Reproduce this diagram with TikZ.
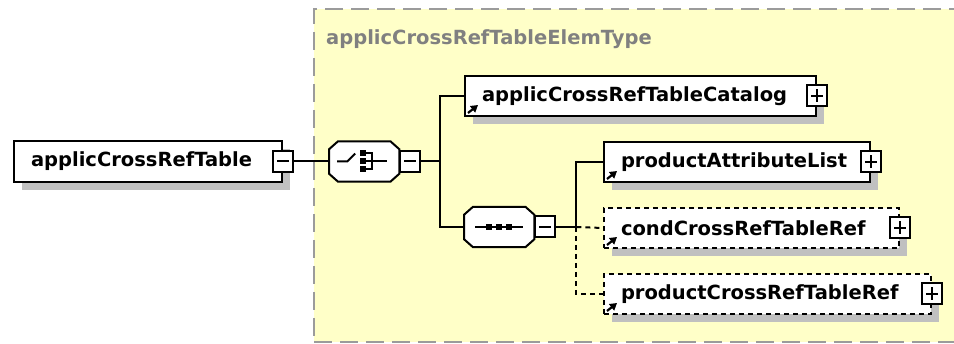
\documentclass[tikz,border=0pt]{standalone}
\usepackage{fontspec}
\setmainfont{DejaVu Sans}
\usetikzlibrary{positioning,shadows,arrows.meta}
\definecolor{typeyellow}{RGB}{255,255,200}
\definecolor{typegray}{RGB}{155,155,155}
\definecolor{titlegray}{RGB}{128,128,128}
\definecolor{shadowgray}{RGB}{192,192,192}
\newcommand{\elemfont}{\fontsize{19.5}{22}\selectfont\bfseries}
\newcommand{\octapath}[1]{([xshift=9pt]#1.north west) -- ([xshift=-9pt]#1.north east) -- ([yshift=-8pt]#1.north east) -- ([yshift=8pt]#1.south east) -- ([xshift=-9pt]#1.south east) -- ([xshift=9pt]#1.south west) -- ([yshift=8pt]#1.south west) -- ([yshift=-8pt]#1.north west) -- cycle}
\newcommand{\octagon}[1]{\fill[shadowgray,shift={(8pt,-8pt)}] \octapath{#1}; \draw[line width=2pt,fill=white] \octapath{#1};}
\tikzset{
	graysh/.style={drop shadow={shadow xshift=8pt,shadow yshift=-8pt,fill=shadowgray,opacity=1,draw=none}},
	elem/.style={draw=black,line width=2pt,fill=white,minimum height=40pt,inner xsep=17pt,inner ysep=0pt,align=left,anchor=north west,font=\elemfont,graysh},
	optelem/.style={elem,dash pattern=on 5pt off 4pt},
	compositor/.style={rectangle,minimum width=70pt,minimum height=40pt,inner sep=0pt},
	pmbox/.style={draw=black,fill=white,line width=2pt,minimum width=20pt,minimum height=21pt,inner sep=0pt},
	minus/.style={pmbox,path picture={\draw[line width=2pt] ([xshift=4pt]path picture bounding box.west) -- ([xshift=-4pt]path picture bounding box.east);}},
	plus/.style={pmbox,path picture={\draw[line width=2pt] ([xshift=4pt]path picture bounding box.west) -- ([xshift=-4pt]path picture bounding box.east) ([yshift=-4pt]path picture bounding box.north) -- ([yshift=4pt]path picture bounding box.south);}},
	link/.style={draw=black,line width=2pt},
	optlink/.style={link,dash pattern=on 5pt off 4pt},
	refarrow/.style={line width=2.2pt,-{Triangle[length=7pt,width=8pt]}},
	dot/.style={fill=black,minimum size=6pt,inner sep=0pt}
}
\begin{document}
\begin{tikzpicture}[x=1pt,y=-1pt]
	\useasboundingbox (0,0) rectangle (954,344);
	\node (elemtype)[anchor=north west,rectangle,minimum width=680pt,minimum height=333pt,fill=typeyellow,draw=typegray,line width=2pt,dash pattern=on 18pt off 8pt] at (313,8) {};
	\node (typetitle)[anchor=base west,inner sep=0pt,font=\elemfont,text=titlegray] at (326,45) {applicCrossRefTableElemType};

	\node (root)[elem,text width=234pt,minimum height=41pt] at (13,140) {applicCrossRefTable};
	\node (rootpm)[minus] at (root.east) {};

	\node (choice)[compositor,right=35pt of rootpm] {};
	\octagon{choice}
	\node (choicepm)[minus,anchor=west] at (choice.east) {};
	\begin{scope}[shift={(choice.center)}]
		\draw[line width=2pt] (-27,0) -- (-17,0) -- (-9,-8);
		\foreach \dy in {-8,0,8}
			\node (choicedot\dy)[dot] at (-1,\dy) {};
		\draw[line width=2pt] (2,-8) -- (8,-8) -- (8,8) -- (2,8) (2,0) -- (23,0);
	\end{scope}
	\coordinate (fork1) at ([xshift=19pt]choicepm.east);

	\node (catalog)[elem,text width=317pt] at (464,75) {applicCrossRefTableCatalog};
	\node (catalogpm)[plus] at (catalog.east) {};

	\node (seq)[compositor,anchor=west] at (464,227) {};
	\octagon{seq}
	\node (seqpm)[minus,anchor=west] at (seq.east) {};
	\begin{scope}[shift={(seq.center)}]
		\draw[line width=2pt] (-24,0) -- (24,0);
		\foreach \dx in {-10,0,10}
			\node (seqdot\dx)[dot] at (\dx,0) {};
	\end{scope}
	\coordinate (fork2) at ([xshift=20pt]seqpm.east);

	\node (attrlist)[elem,text width=232pt] at (603,141) {productAttributeList};
	\node (attrlistpm)[plus] at (attrlist.east) {};
	\node (condref)[optelem,text width=261pt] at (603,207) {condCrossRefTableRef};
	\node (condrefpm)[plus] at (condref.east) {};
	\node (prodref)[optelem,text width=293pt] at (603,273) {productCrossRefTableRef};
	\node (prodrefpm)[plus] at (prodref.east) {};

	\foreach \n in {catalog,attrlist,condref,prodref}
		\draw[refarrow] ([xshift=4pt,yshift=4pt]\n.south west) -- ++(10,-8);

	\draw[link] (rootpm.east) -- (choice.west);
	\draw[link] (choicepm.east) -- (fork1);
	\draw[link] (catalog.west) -| (fork1) |- (seq.west);
	\draw[link] (seqpm.east) -- (fork2) |- (attrlist.west);
	\draw[optlink] (fork2) -- (condref.west);
	\draw[optlink] (fork2) |- (prodref.west);
\end{tikzpicture}
\end{document}
